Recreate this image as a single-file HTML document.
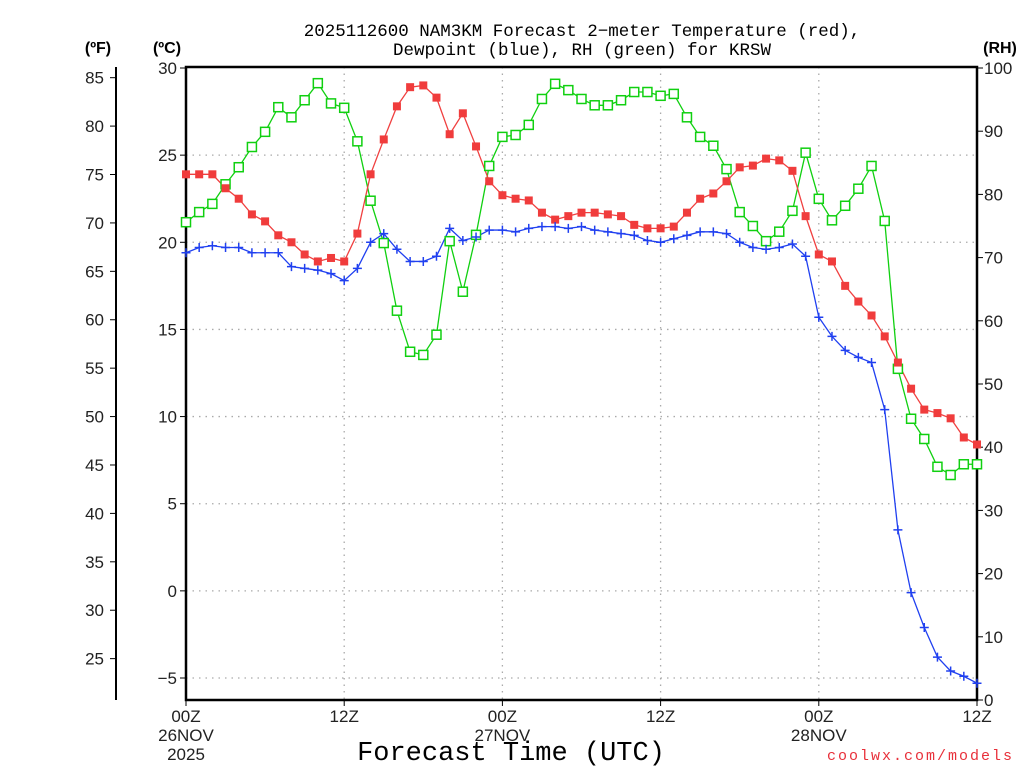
<!DOCTYPE html>
<html><head><meta charset="utf-8"><style>
html,body{margin:0;padding:0;background:#fff}
svg{display:block;font-family:"Liberation Sans",sans-serif}
</style></head><body>
<svg id="chart" width="1024" height="768" viewBox="0 0 1024 768" xmlns="http://www.w3.org/2000/svg">
<rect width="1024" height="768" fill="#fff"/>
<text x="582" y="36" font-size="17.5" font-family="Liberation Mono, monospace" text-anchor="middle" fill="#000">2025112600 NAM3KM Forecast 2−meter Temperature (red),</text>
<text x="582" y="55" font-size="17.5" font-family="Liberation Mono, monospace" text-anchor="middle" fill="#000">Dewpoint (blue), RH (green) for KRSW</text>
<text x="98" y="53" font-size="16" font-weight="bold" text-anchor="middle">(ºF)</text>
<text x="167" y="53" font-size="16" font-weight="bold" text-anchor="middle">(ºC)</text>
<text x="1000" y="53" font-size="16" font-weight="bold" text-anchor="middle">(RH)</text>
<text x="511" y="760" font-size="27" font-family="Liberation Mono, monospace" text-anchor="middle">Forecast Time (UTC)</text>
<text x="1014" y="760" font-size="15" font-family="Liberation Mono, monospace" fill="#e8303a" text-anchor="end" letter-spacing="2">coolwx.com/models</text>
<g id="grid"></g>
<g id="axes"></g>
<g id="series"></g>
</svg>
<script>
const hours = Array.from({length:61},(_,i)=>i);
const tempC = [23.9,23.9,23.9,23.1,22.5,21.6,21.2,20.4,20.0,19.3,18.9,19.1,18.9,20.5,23.9,25.9,27.8,28.9,29.0,28.3,26.2,27.4,25.5,23.5,22.7,22.5,22.4,21.7,21.3,21.5,21.7,21.7,21.6,21.5,21.0,20.8,20.8,20.9,21.7,22.5,22.8,23.5,24.3,24.4,24.8,24.7,24.1,21.5,19.3,18.9,17.5,16.6,15.8,14.6,13.1,11.6,10.4,10.2,9.9,8.8,8.4];
const dewC = [19.4,19.7,19.8,19.7,19.7,19.4,19.4,19.4,18.6,18.5,18.4,18.2,17.8,18.5,20.0,20.5,19.6,18.9,18.9,19.2,20.8,20.1,20.3,20.7,20.7,20.6,20.8,20.9,20.9,20.8,20.9,20.7,20.6,20.5,20.4,20.1,20.0,20.2,20.4,20.6,20.6,20.5,20.0,19.7,19.6,19.7,19.9,19.2,15.7,14.6,13.8,13.4,13.1,10.4,3.5,-0.1,-2.1,-3.8,-4.6,-4.9,-5.3];
const rh = [75.6,77.2,78.5,81.6,84.3,87.5,89.9,93.8,92.2,94.9,97.6,94.4,93.7,88.4,79.0,72.3,61.6,55.1,54.6,57.8,72.6,64.6,73.6,84.5,89.1,89.4,91.0,95.1,97.5,96.5,95.1,94.1,94.1,94.9,96.2,96.2,95.6,95.9,92.2,89.1,87.7,84.0,77.2,75.0,72.6,74.1,77.4,86.6,79.3,75.9,78.2,80.9,84.5,75.8,52.4,44.5,41.3,36.9,35.6,37.3,37.3];
const cTicks = [30,25,20,15,10,5,0,-5];
const cTickLabels = ["30","25","20","15","10","5","0","−5"];
const fTicks = [85,80,75,70,65,60,55,50,45,40,35,30,25];
const rhTicks = [100,90,80,70,60,50,40,30,20,10,0];
const xTicks = [0,12,24,36,48,60];
const xTickLabels = [["00Z","26NOV","2025"],["12Z"],["00Z","27NOV"],["12Z"],["00Z","28NOV"],["12Z"]];

const L=186,R=977,T=67,B=700;
const x = h => L + (h/60)*(R-L);
const yC = c => 68 + (30-c)*(610/35);
const yRH = r => B - r*(B-68)/100;
const yF = f => yC((f-32)*5/9);
const NS="http://www.w3.org/2000/svg";
function mk(tag,attrs,parent){const e=document.createElementNS(NS,tag);for(const k in attrs)e.setAttribute(k,attrs[k]);parent.appendChild(e);return e;}
const grid=document.getElementById('grid'),axes=document.getElementById('axes'),ser=document.getElementById('series');

cTicks.forEach((c,i)=>{
  if(c<30){const g=mk('line',{x1:L,x2:R,y1:yC(c),y2:yC(c),stroke:'#aaa','stroke-width':1.3,'stroke-dasharray':'1.5,5'},grid);
  
  }
  const t=mk('line',{x1:L-6,x2:L,y1:yC(c),y2:yC(c),stroke:'#000','stroke-width':1},axes);
  
  
  const tx=mk('text',{x:L-9,y:yC(c)+6,'font-size':17,'text-anchor':'end',fill:'#222'},axes);
  tx.textContent=cTickLabels[i];
  
  
});
xTicks.forEach((h,i)=>{
  if(h>0&&h<60){const g=mk('line',{x1:x(h),x2:x(h),y1:T,y2:B,stroke:'#aaa','stroke-width':1.3,'stroke-dasharray':'1.5,5'},grid);
  
  }
  const t=mk('line',{x1:x(h),x2:x(h),y1:B,y2:B+6,stroke:'#000','stroke-width':1},axes);
  
  
  xTickLabels[i].forEach((s,j)=>{
    const tx=mk('text',{x:x(h),y:722+j*19,'font-size':17,'text-anchor':'middle',fill:'#222'},axes);
    tx.textContent=s;
    
    
  });
});
const fl=mk('line',{x1:116,x2:116,y1:T,y2:B,stroke:'#000','stroke-width':2},axes);


fTicks.forEach(f=>{
  const t=mk('line',{x1:110,x2:116,y1:yF(f),y2:yF(f),stroke:'#000','stroke-width':1},axes);
  
  
  const tx=mk('text',{x:104,y:yF(f)+6,'font-size':17,'text-anchor':'end',fill:'#222'},axes);
  tx.textContent=String(f);
  
  
});
rhTicks.forEach(r=>{
  const t=mk('line',{x1:R,x2:R+6,y1:yRH(r),y2:yRH(r),stroke:'#000','stroke-width':1},axes);
  
  
  const tx=mk('text',{x:984,y:yRH(r)+6,'font-size':17,'text-anchor':'start',fill:'#222'},axes);
  tx.textContent=String(r);
  
  
});
const fr=mk('rect',{x:L,y:T,width:R-L,height:B-T,fill:'none',stroke:'#000','stroke-width':2.5},axes);



function line(vals,yf,color,name){
  const p=mk('polyline',{points:vals.map((v,i)=>x(hours[i])+','+yf(v)).join(' '),fill:'none',stroke:color,'stroke-width':1.3},ser);
  
  
}
line(rh,yRH,'#10d010','rh-line');
line(tempC,yC,'#f04040','temperature-line');
line(dewC,yC,'#2040f0','dewpoint-line');
rh.forEach((v,i)=>{
  const m=mk('rect',{x:x(hours[i])-4.5,y:yRH(v)-4.5,width:9,height:9,fill:'#fff',stroke:'#10d010','stroke-width':1.5},ser);
  
  
});
tempC.forEach((v,i)=>{
  const m=mk('rect',{x:x(hours[i])-4,y:yC(v)-4,width:8,height:8,fill:'#f03c3c'},ser);
  
  
});
dewC.forEach((v,i)=>{
  const cx=x(hours[i]),cy=yC(v);
  const m=mk('path',{d:`M${cx-4.5},${cy}H${cx+4.5}M${cx},${cy-4.5}V${cy+4.5}`,stroke:'#2040f0','stroke-width':1.5},ser);
  
  
});
</script>
</body></html>
